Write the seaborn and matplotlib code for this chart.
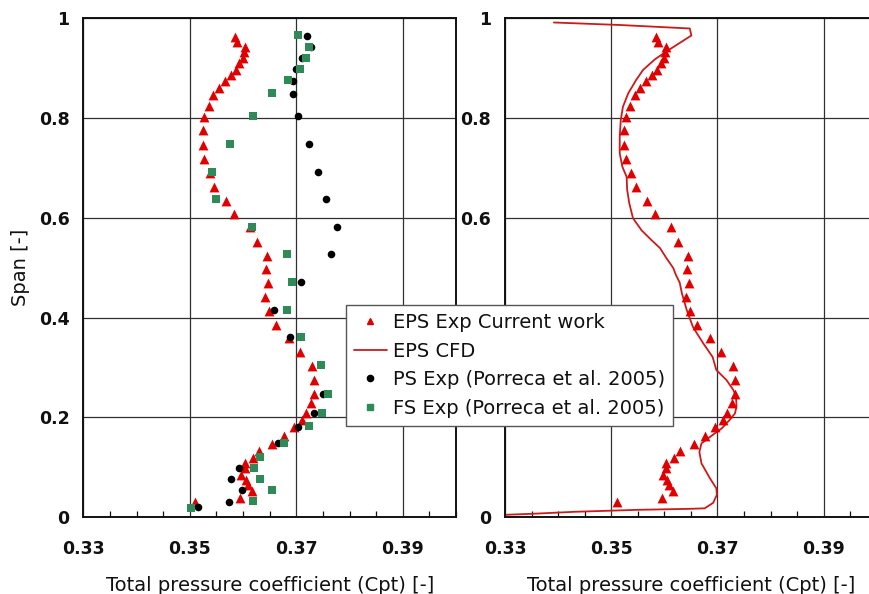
import numpy as np
import pandas as pd
import matplotlib
matplotlib.use("Agg")
import matplotlib.pyplot as plt
from matplotlib.ticker import MultipleLocator, FixedLocator, FixedFormatter
from matplotlib.lines import Line2D
import seaborn as sns

# ---------------- data ----------------
eps_exp_cpt = [0.3585, 0.3588, 0.3603, 0.3601, 0.3599, 0.3593, 0.3587, 0.3577, 0.3566, 0.3555,
               0.3544, 0.3536, 0.3527, 0.3525, 0.3524, 0.3527, 0.3538, 0.3546, 0.3568, 0.3583,
               0.3613, 0.3626, 0.3644, 0.3643, 0.3647, 0.3641, 0.3649, 0.3661, 0.3686, 0.3707,
               0.3730, 0.3734, 0.3734, 0.3728, 0.3718, 0.3710, 0.3696, 0.3676, 0.3655, 0.3630,
               0.3618, 0.3604, 0.3604, 0.3597, 0.3605, 0.3609, 0.3616, 0.3595, 0.3510]
eps_exp_span = [0.9626, 0.9525, 0.9425, 0.9325, 0.9205, 0.9093, 0.8958, 0.8858, 0.8738, 0.8604,
                0.8458, 0.8244, 0.8023, 0.7757, 0.7456, 0.7176, 0.6902, 0.6621, 0.6341, 0.6074,
                0.5808, 0.5520, 0.5243, 0.4979, 0.4699, 0.4418, 0.4132, 0.3851, 0.3585, 0.3305,
                0.3030, 0.2750, 0.2463, 0.2283, 0.2083, 0.1949, 0.1803, 0.1634, 0.1468, 0.1328,
                0.1194, 0.1082, 0.0981, 0.0847, 0.0747, 0.0647, 0.0533, 0.0393, 0.0312]

ps_exp_cpt = [0.3721, 0.3728, 0.3711, 0.3699, 0.3694, 0.3694, 0.3704, 0.3724, 0.3741, 0.3756,
              0.3776, 0.3766, 0.3709, 0.3659, 0.3689, 0.3751, 0.3733, 0.3704, 0.3666, 0.3593,
              0.3577, 0.3598, 0.3574, 0.3516]
ps_exp_span = [0.9646, 0.9425, 0.9205, 0.8973, 0.8744, 0.8478, 0.8043, 0.7470, 0.6922, 0.6369,
               0.5820, 0.5267, 0.4707, 0.4152, 0.3605, 0.2469, 0.2095, 0.1815, 0.1482, 0.0993,
               0.0761, 0.0547, 0.0312, 0.0212]

fs_exp_cpt = [0.3704, 0.3723, 0.3718, 0.3706, 0.3684, 0.3655, 0.3618, 0.3575, 0.3541, 0.3550,
              0.3616, 0.3683, 0.3692, 0.3683, 0.3709, 0.3746, 0.3759, 0.3749, 0.3724, 0.3676,
              0.3632, 0.3620, 0.3632, 0.3655, 0.3618, 0.3503]
fs_exp_span = [0.9653, 0.9425, 0.9205, 0.8973, 0.8758, 0.8492, 0.8043, 0.7470, 0.6922, 0.6369,
               0.5820, 0.5267, 0.4707, 0.4152, 0.3605, 0.3050, 0.2469, 0.2095, 0.1829, 0.1482,
               0.1214, 0.0993, 0.0761, 0.0547, 0.0332, 0.0192]

eps_cfd_cpt = [0.3392, 0.3516, 0.3648, 0.3651, 0.3604, 0.3582, 0.3560, 0.3547, 0.3532, 0.3522,
               0.3518, 0.3516, 0.3516, 0.3521, 0.3529, 0.3530, 0.3534, 0.3541, 0.3557, 0.3576,
               0.3592, 0.3604, 0.3617, 0.3622, 0.3629, 0.3633, 0.3642, 0.3654, 0.3673, 0.3691,
               0.3698, 0.3717, 0.3730, 0.3735, 0.3736, 0.3733, 0.3723, 0.3708, 0.3686, 0.3670,
               0.3666, 0.3670, 0.3686, 0.3698, 0.3699, 0.3692, 0.3676, 0.3648, 0.3550, 0.3430,
               0.3350, 0.3300]
eps_cfd_span = [0.991, 0.986, 0.979, 0.965, 0.933, 0.917, 0.896, 0.876, 0.849, 0.822,
                0.796, 0.762, 0.729, 0.702, 0.682, 0.656, 0.629, 0.599, 0.575, 0.555,
                0.539, 0.519, 0.499, 0.485, 0.470, 0.449, 0.416, 0.381, 0.349, 0.321,
                0.295, 0.275, 0.255, 0.242, 0.222, 0.208, 0.195, 0.178, 0.161, 0.148,
                0.131, 0.108, 0.078, 0.058, 0.045, 0.029, 0.018, 0.017, 0.015, 0.011,
                0.007, 0.005]

x_ticks = [0.33, 0.35, 0.37, 0.39]
x_tick_labels = ["0.33", "0.35", "0.37", "0.39"]
y_ticks = [0.0, 0.2, 0.4, 0.6, 0.8, 1.0]
y_tick_labels = ["0", "0.2", "0.4", "0.6", "0.8", "1"]
# on the right panel the "0.4" label sits fully behind the legend
y_tick_labels_right = ["0", "0.2", "", "0.6", "0.8", "1"]

labels = ["EPS Exp Current work", "EPS CFD",
          "PS Exp (Porreca et al. 2005)", "FS Exp (Porreca et al. 2005)"]

# ---------------- style ----------------
sns.set_theme(style="white")
plt.rcParams["font.family"] = ["DejaVu Sans"]

RED = "#e00000"
LINE_RED = "#cc1a1a"
GREEN = "#2e8b57"

df_eps = pd.DataFrame({"cpt": eps_exp_cpt, "span": eps_exp_span})
df_ps = pd.DataFrame({"cpt": ps_exp_cpt, "span": ps_exp_span})
df_fs = pd.DataFrame({"cpt": fs_exp_cpt, "span": fs_exp_span})
df_cfd = pd.DataFrame({"cpt": eps_cfd_cpt, "span": eps_cfd_span})

fig = plt.figure(figsize=(8.7, 5.94), dpi=100)
ax1 = fig.add_axes([0.0959, 0.1291, 0.4282, 0.8406])
ax2 = fig.add_axes([0.5805, 0.1291, 0.4272, 0.8406])


def style_axes(ax, ylabel, ylabels):
    ax.set_xlim(0.33, 0.40)
    ax.set_ylim(0, 1)
    ax.xaxis.set_major_locator(FixedLocator(x_ticks))
    ax.xaxis.set_major_formatter(FixedFormatter(x_tick_labels))
    ax.xaxis.set_minor_locator(MultipleLocator(0.005))
    ax.yaxis.set_major_locator(FixedLocator(y_ticks))
    ax.yaxis.set_major_formatter(FixedFormatter(ylabels))
    ax.grid(True, which="major", color="#303030", linewidth=0.9)
    ax.set_axisbelow(True)
    for s in ax.spines.values():
        s.set_color("#111111")
        s.set_linewidth(1.4)
        s.set_visible(True)
    ax.tick_params(axis="x", which="major", direction="in", length=0, pad=16,
                   labelsize=12.5, colors="#111111")
    ax.tick_params(axis="x", which="minor", direction="in", length=4, width=0.9,
                   color="#111111", bottom=True)
    ax.tick_params(axis="y", which="major", direction="in", length=0, pad=10,
                   labelsize=12.5, colors="#111111")
    for lab in ax.get_xticklabels() + ax.get_yticklabels():
        lab.set_fontweight("bold")
    ax.set_xlabel("Total pressure coefficient (Cpt) [-]", fontsize=14, labelpad=13,
                  color="#111111")
    if ylabel:
        ax.set_ylabel("Span [-]", fontsize=14, labelpad=6, color="#111111")
    else:
        ax.set_ylabel("")


# left panel: experiments
sns.scatterplot(data=df_eps, x="cpt", y="span", ax=ax1, marker="^", s=50,
                color=RED, edgecolor=RED, linewidth=0, zorder=3)
sns.scatterplot(data=df_ps, x="cpt", y="span", ax=ax1, marker="o", s=30,
                color="black", edgecolor="black", linewidth=0, zorder=3)
sns.scatterplot(data=df_fs, x="cpt", y="span", ax=ax1, marker="s", s=26,
                color=GREEN, edgecolor=GREEN, linewidth=0, zorder=3)
style_axes(ax1, True, y_tick_labels)

# right panel: EPS exp vs CFD
sns.scatterplot(data=df_eps, x="cpt", y="span", ax=ax2, marker="^", s=50,
                color=RED, edgecolor=RED, linewidth=0, zorder=3)
sns.lineplot(data=df_cfd, x="cpt", y="span", ax=ax2, sort=False, estimator=None,
             color=LINE_RED, linewidth=1.3, zorder=2)
style_axes(ax2, False, y_tick_labels_right)

handles = [
    Line2D([], [], linestyle="none", marker="^", markersize=5, color=RED),
    Line2D([], [], color=LINE_RED, linewidth=1.3),
    Line2D([], [], linestyle="none", marker="o", markersize=4.5, color="black"),
    Line2D([], [], linestyle="none", marker="s", markersize=4.5, color=GREEN),
]
leg = fig.legend(handles, labels, loc="upper left", bbox_to_anchor=(0.3977, 0.4865),
                 borderaxespad=0, frameon=True, fancybox=False, fontsize=14,
                 handlelength=1.7, handletextpad=0.3, labelspacing=0.5,
                 borderpad=0.4)
leg.get_frame().set_edgecolor("#555555")
leg.get_frame().set_linewidth(1.0)
leg.get_frame().set_facecolor("white")
leg.get_frame().set_alpha(1.0)
for t in leg.get_texts():
    t.set_color("#111111")

fig.savefig("out.png", dpi=100)
